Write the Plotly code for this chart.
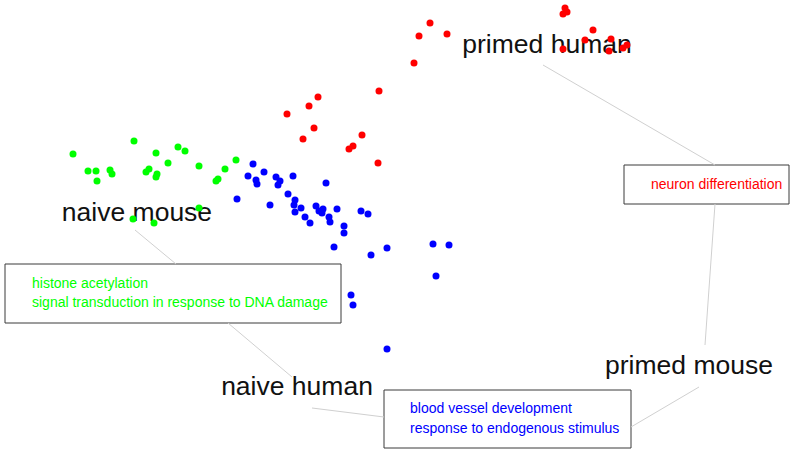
import plotly.graph_objects as go

# --- data (x, y in chart units; y grows downward) ---
naive_mouse_x = [73, 88, 96, 97, 110, 112, 134, 146, 149, 156, 157, 156, 168, 178, 185, 199, 216, 218, 225, 236, 199, 133, 154]
naive_mouse_y = [154, 171, 171, 181, 170, 174, 141, 172, 169, 153, 174, 177, 163, 147, 151, 166, 181, 179, 169, 160, 208, 219, 223]

naive_human_x = [253, 248, 256, 257, 264, 276, 280, 278, 293, 237, 270, 326, 288, 295, 294, 301, 295, 305, 310, 316,
                 319, 323, 322, 329, 330, 337, 344, 344, 361, 368, 334, 371, 387, 433, 449, 436, 351, 353, 387]
naive_human_y = [164, 176, 180, 184, 172, 177, 181, 185, 176, 199, 205, 183, 194, 200, 205, 208, 212, 217, 223, 206,
                 211, 209, 213, 217, 222, 209, 226, 233, 211, 214, 247, 255, 248, 244, 245, 276, 295, 305, 349]

primed_human_x = [419, 414, 379, 318, 309, 287, 314, 303, 362, 353, 349, 378, 430, 447, 565, 567, 563, 593, 585, 611, 563, 609, 623, 627]
primed_human_y = [36, 63, 91, 97, 106, 114, 128, 139, 135, 146, 149, 163, 23, 34, 8, 12, 14, 30, 40, 39, 49, 51, 48, 45]

group_labels = ["naive mouse", "naive human", "primed human", "primed mouse"]
group_label_x = [137, 297, 547, 689]
group_label_y = [214, 388, 46, 367]

green_terms = ["histone acetylation", "signal transduction in response to DNA damage"]
blue_terms = ["blood vessel development", "response to endogenous stimulus"]
red_terms = ["neuron differentiation"]

GREEN, BLUE, RED = "#00ff00", "#0000ff", "#ff0000"

fig = go.Figure()

# big group labels (drawn below points)
fig.add_trace(go.Scatter(x=group_label_x, y=group_label_y, mode="text", text=group_labels,
                         textposition="middle center",
                         textfont=dict(family="Liberation Sans, Arial", size=26.5, color="#111111"),
                         hoverinfo="skip", showlegend=False))

boxes = [
    dict(rect=(5, 264, 341, 323), tx=32, ty=[284, 303], terms=green_terms, color=GREEN),
    dict(rect=(384, 390, 631, 448), tx=410, ty=[409, 429], terms=blue_terms, color=BLUE),
    dict(rect=(624, 165, 789, 204), tx=651, ty=[185], terms=red_terms, color=RED),
]
for b in boxes:
    fig.add_trace(go.Scatter(x=[b["tx"]] * len(b["terms"]), y=b["ty"], mode="text", text=b["terms"],
                             textposition="middle right",
                             textfont=dict(family="Liberation Sans, Arial", size=14, color=b["color"]),
                             hoverinfo="skip", showlegend=False))

for xs, ys, col, name in [(naive_mouse_x, naive_mouse_y, GREEN, "naive mouse"),
                          (naive_human_x, naive_human_y, BLUE, "naive human"),
                          (primed_human_x, primed_human_y, RED, "primed human")]:
    fig.add_trace(go.Scatter(x=xs, y=ys, mode="markers", name=name,
                             marker=dict(color=col, size=7, line=dict(width=0)),
                             showlegend=False))

shapes = []
for b in boxes:
    x0, y0, x1, y1 = b["rect"]
    shapes.append(dict(type="rect", xref="x", yref="y", x0=x0, y0=y0, x1=x1, y1=y1,
                       line=dict(color="#3a3a3a", width=1), fillcolor="rgba(0,0,0,0)", layer="below"))

connectors = [
    (543, 65, 715, 165),
    (715, 204, 705, 345),
    (699, 387, 631, 427),
    (135, 230, 176, 264),
    (228, 323, 292, 377),
    (312, 408, 384, 417),
]
for x0, y0, x1, y1 in connectors:
    shapes.append(dict(type="line", xref="x", yref="y", x0=x0, y0=y0, x1=x1, y1=y1,
                       line=dict(color="#d0d0d0", width=1), layer="below"))

fig.update_layout(
    width=795, height=454,
    margin=dict(l=0, r=0, t=0, b=0),
    paper_bgcolor="white", plot_bgcolor="white",
    xaxis=dict(range=[0, 795], visible=False, fixedrange=True),
    yaxis=dict(range=[454, 0], visible=False, fixedrange=True),
    shapes=shapes,
    showlegend=False,
)

fig.write_html("out.html", config={"displayModeBar": False},
               post_script="document.body.style.margin='0px';document.body.style.overflow='hidden';")
